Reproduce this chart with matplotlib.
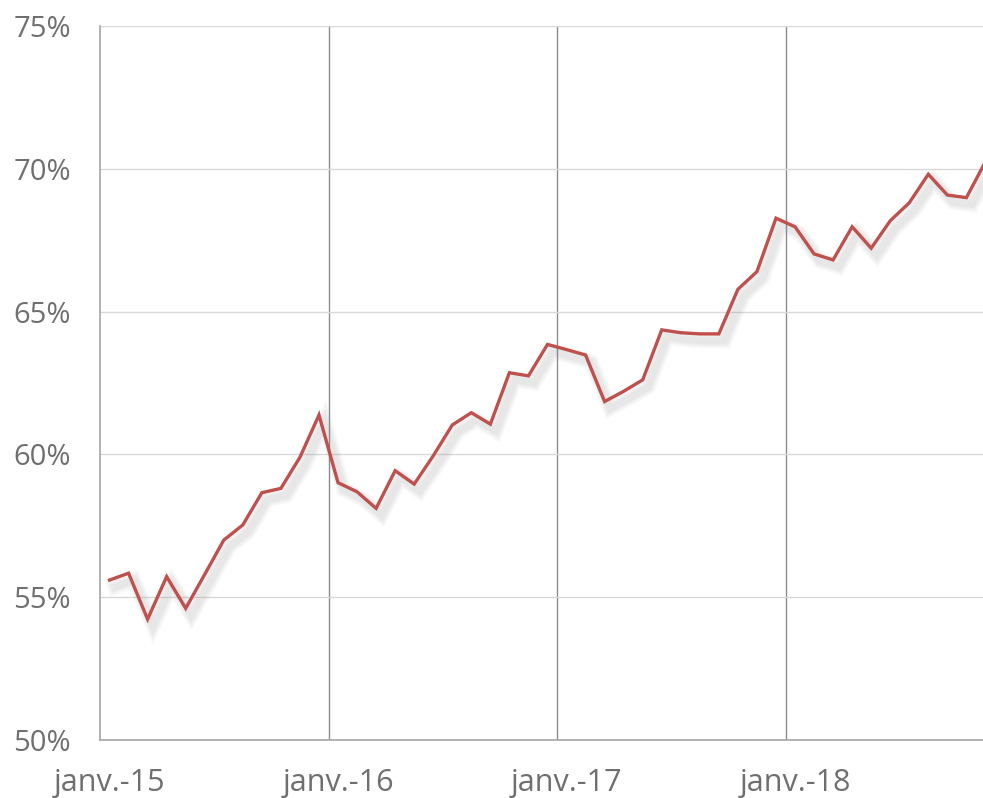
import matplotlib.pyplot as plt
import matplotlib.patheffects as pe
import numpy as np

# monthly share, janv.-15 onwards (%)
values = [
    55.60, 55.84, 54.23, 55.72, 54.61, 55.80, 57.00, 57.53, 58.66, 58.81, 59.90, 61.38,
    59.01, 58.69, 58.11, 59.43, 58.96, 59.95, 61.03, 61.46, 61.06, 62.86, 62.75, 63.85,
    63.67, 63.48, 61.85, 62.21, 62.61, 64.36, 64.26, 64.22, 64.22, 65.78, 66.40, 68.27,
    67.97, 67.02, 66.81, 67.97, 67.22, 68.18, 68.81, 69.81, 69.08, 68.99, 70.25,
]
year_labels = ["janv.-15", "janv.-16", "janv.-17", "janv.-18"]
y_ticks = [50, 55, 60, 65, 70, 75]

# month index, points sit in the middle of each month
months = np.arange(len(values)) + 0.5

text_color = "#6f6f6f"

fig = plt.figure(figsize=(9.83, 7.98), dpi=100)
ax = fig.add_axes([100 / 983, 58 / 798, 883 / 983, 714 / 798])

# =========================
# Line with soft (layered) shadow
# =========================
shadow = [
    pe.SimpleLineShadow(offset=(4, -5), shadow_color="#8a8a8a", alpha=0.05, linewidth=w)
    for w in (11, 9, 7, 5)
]
ax.plot(
    months, values,
    color="#c0504d", linewidth=2.4, solid_joinstyle="miter",
    path_effects=shadow + [pe.Normal()],
    zorder=3,
)

# =========================
# Axes styling
# =========================
ax.set_ylim(50, 75)
ax.set_xlim(0, 883 / (228.5 / 12))

ax.set_yticks(y_ticks)
ax.set_yticklabels([f"{v}%" for v in y_ticks])

ax.set_xticks([0.5, 12.5, 24.5, 36.5])
ax.set_xticklabels(year_labels)
ax.set_xticks([12, 24, 36], minor=True)

ax.grid(axis="y", which="major", color="#d9d9d9", linewidth=1.0)
ax.grid(axis="x", which="minor", color="#8c8c8c", linewidth=1.0)
ax.set_axisbelow(True)

for side in ["top", "right"]:
    ax.spines[side].set_visible(False)
for side in ["left", "bottom"]:
    ax.spines[side].set_color("#a6a6a6")
    ax.spines[side].set_linewidth(1.2)

ax.tick_params(axis="both", which="both", length=0, colors=text_color)
ax.tick_params(axis="y", labelsize=21, pad=21)
ax.tick_params(axis="x", labelsize=22, pad=20)

for lbl in ax.get_xticklabels() + ax.get_yticklabels():
    lbl.set_family("Open Sans")

fig.savefig("out.png", dpi=100)
